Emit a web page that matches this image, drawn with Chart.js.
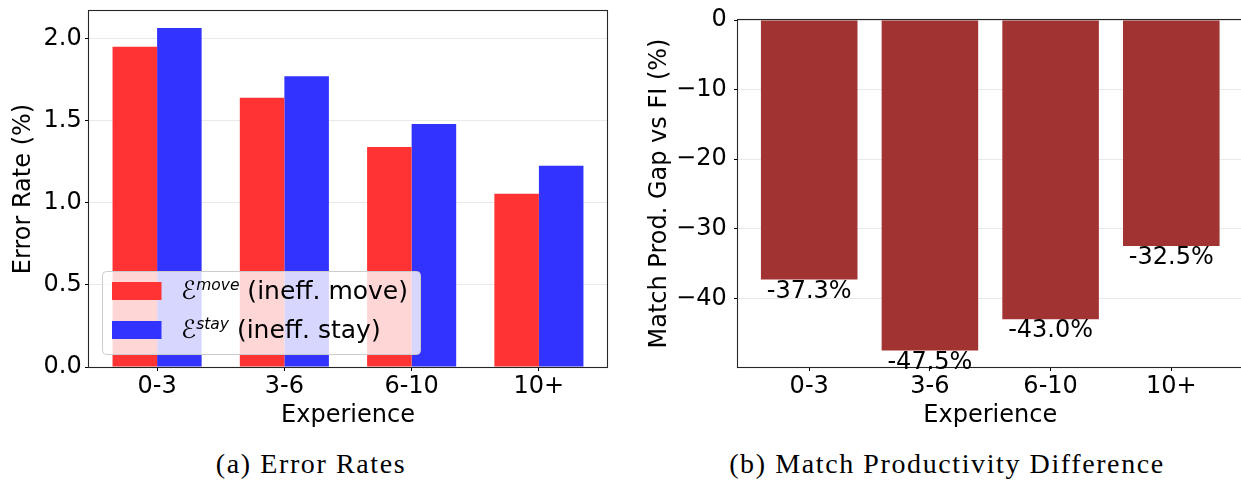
<!DOCTYPE html>
<html>
<head>
<meta charset="utf-8">
<script src="https://cdn.jsdelivr.net/npm/chart.js@4.4.1/dist/chart.umd.min.js"></script>
<style>
  html, body { margin: 0; padding: 0; background: #fff; overflow: hidden; }
  #page { position: relative; width: 1241px; height: 480px; overflow: hidden; }
  canvas { position: absolute; top: 0; }
  #errors { left: 0; }
  #gap { left: 630px; }
  .caption { position: absolute; top: 450px; font: 28px 'Liberation Serif', serif; line-height: 1;
             letter-spacing: 1.6px; white-space: nowrap; transform: translateX(-50%); color: #000; }
</style>
</head>
<body>
<div id="page">
  <canvas id="errors" width="620" height="430"></canvas>
  <canvas id="gap" width="620" height="430"></canvas>
  <div class="caption" style="left:311px">(a) Error Rates</div>
  <div class="caption" style="left:947px">(b) Match Productivity Difference</div>
</div>
<script>
const experience = ['0-3', '3-6', '6-10', '10+'];
const moveErrors = [1.95, 1.64, 1.34, 1.055];
const stayErrors = [2.065, 1.77, 1.48, 1.225];
const errorTicks = [0, 0.5, 1.0, 1.5, 2.0];
const gapValues = [-37.3, -47.5, -43.0, -32.5];
const gapTicks = [0, -10, -20, -30, -40];
const seriesSup = ['move', 'stay'];
const seriesDesc = ['(ineff. move)', '(ineff. stay)'];

Chart.defaults.font.family = "'DejaVu Sans', sans-serif";
Chart.defaults.font.size = 24;
Chart.defaults.color = '#000';

const toPoints = vals => vals.map((v, i) => ({ x: i, y: v }));

function xAxis(min, max) {
    return {
        type: 'linear', min: min, max: max, offset: false,
        afterBuildTicks: s => { s.ticks = experience.map((_, i) => ({ value: i })); },
        afterFit: s => { s.height = 63; s.paddingLeft = 0; s.paddingRight = 0; },
        ticks: { callback: v => experience[Math.round(v)], padding: 1.5, maxRotation: 0, autoSkip: false },
        grid: { display: true, drawOnChartArea: false, offset: false, tickLength: 4, tickColor: '#000' },
        border: { display: false },
        title: { display: true, text: 'Experience', padding: { top: 0, bottom: 0 } }
    };
}

function yAxis(min, max, ticks, fmt, width, pad, title, titlePad) {
    return {
        min: min, max: max, z: 1,
        afterBuildTicks: s => { s.ticks = ticks.map(v => ({ value: v })); },
        afterFit: s => { s.width = width; s.paddingTop = 0; s.paddingBottom = 0; },
        ticks: { callback: fmt, padding: pad },
        grid: { color: 'rgba(176,176,176,0.28)', lineWidth: 1, tickLength: 4, tickColor: '#000' },
        border: { display: false },
        title: { display: true, text: title, padding: { top: titlePad, bottom: 0 } }
    };
}

// matplotlib-style box around the axes
const framePlugin = {
    id: 'frame',
    afterDraw(chart) {
        const { ctx, chartArea: a } = chart;
        ctx.save();
        ctx.strokeStyle = '#262626';
        ctx.lineWidth = 1.1;
        const l = Math.round(a.left) - 0.5, t = Math.round(a.top) - 0.5;
        const r = Math.round(a.right) + 0.5, b = Math.round(a.bottom) + 0.5;
        ctx.strokeRect(l, t, r - l, b - t);
        ctx.restore();
    }
};

// legend with the script E and superscripts
const mathLegend = {
    id: 'mathLegend',
    afterDraw(chart) {
        const { ctx, chartArea: a } = chart;
        const E = '\u2130';
        const fontE = "italic 25px 'DejaVu Sans'";
        const fontSup = "italic 15.5px 'DejaVu Sans'";
        const fontTxt = "25px 'DejaVu Sans'";
        const rows = chart.data.datasets.map((d, i) => ({ color: d.backgroundColor, sup: seriesSup[i], desc: seriesDesc[i] }));
        ctx.save();
        const widths = rows.map(r => {
            ctx.font = fontE; let w = ctx.measureText(E).width;
            ctx.font = fontSup; w += ctx.measureText(r.sup).width;
            ctx.font = fontTxt; w += ctx.measureText(' ' + r.desc).width;
            return w;
        });
        const pad = 10, handle = 49.5, gap = 19.5, rowH = 39, h = 83;
        const w = pad + handle + gap + Math.max(...widths) + 12;
        const x = a.left + 13, y = a.bottom - 13 - h;
        ctx.beginPath();
        ctx.roundRect(x + 0.5, y + 0.5, w, h, 4);
        ctx.fillStyle = 'rgba(255,255,255,0.8)';
        ctx.fill();
        ctx.strokeStyle = '#cccccc';
        ctx.lineWidth = 1;
        ctx.stroke();
        rows.forEach((r, i) => {
            const cy = y + 20 + i * rowH;
            ctx.fillStyle = r.color;
            ctx.fillRect(x + pad, cy - 9, handle, 18);
            let tx = x + pad + handle + gap;
            const base = cy + 8;
            ctx.fillStyle = '#000';
            ctx.textAlign = 'left';
            ctx.textBaseline = 'alphabetic';
            ctx.font = fontE; ctx.fillText(E, tx, base); tx += ctx.measureText(E).width;
            ctx.font = fontSup; ctx.fillText(r.sup, tx, base - 9); tx += ctx.measureText(r.sup).width;
            ctx.font = fontTxt; ctx.fillText(' ' + r.desc, tx, base);
        });
        ctx.restore();
    }
};

const barLabels = {
    id: 'barLabels',
    afterDraw(chart) {
        const { ctx } = chart;
        const meta = chart.getDatasetMeta(0);
        ctx.save();
        ctx.font = "24px 'DejaVu Sans'";
        ctx.fillStyle = '#000';
        ctx.textAlign = 'center';
        ctx.textBaseline = 'top';
        meta.data.forEach((bar, i) => {
            ctx.fillText(gapValues[i].toFixed(1) + '%', bar.x, bar.y);
        });
        ctx.restore();
    }
};

new Chart(document.getElementById('errors'), {
    type: 'bar',
    data: {
        datasets: [
            { label: seriesSup[0], data: toPoints(moveErrors), backgroundColor: '#ff3333',
              categoryPercentage: 0.7, barPercentage: 1.0 },
            { label: seriesSup[1], data: toPoints(stayErrors), backgroundColor: '#3333ff',
              categoryPercentage: 0.7, barPercentage: 1.0 }
        ]
    },
    options: {
        responsive: false,
        animation: false,
        devicePixelRatio: 1,
        layout: { padding: { top: 11, right: 13, left: 0, bottom: 0 } },
        plugins: { legend: { display: false }, tooltip: { enabled: false } },
        scales: {
            x: xAxis(-0.535, 3.535),
            y: yAxis(0, 2.168, errorTicks, v => v.toFixed(1), 89, 3.3, 'Error Rate (%)', 9.4)
        }
    },
    plugins: [framePlugin, mathLegend]
});

new Chart(document.getElementById('gap'), {
    type: 'bar',
    data: {
        datasets: [
            { label: 'Match productivity gap', data: toPoints(gapValues), backgroundColor: '#a23333',
              categoryPercentage: 0.8, barPercentage: 1.0 }
        ]
    },
    options: {
        responsive: false,
        animation: false,
        devicePixelRatio: 1,
        layout: { padding: { top: 20, right: 7.5, left: 0, bottom: 0 } },
        plugins: { legend: { display: false }, tooltip: { enabled: false } },
        scales: {
            x: xAxis(-0.59, 3.59),
            y: yAxis(-49.875, 0, gapTicks, v => v === 0 ? '0' : '\u2212' + Math.abs(v), 108, 7.3,
                     'Match Prod. Gap vs FI (%)', 15.4)
        }
    },
    plugins: [framePlugin, barLabels]
});
</script>
</body>
</html>
